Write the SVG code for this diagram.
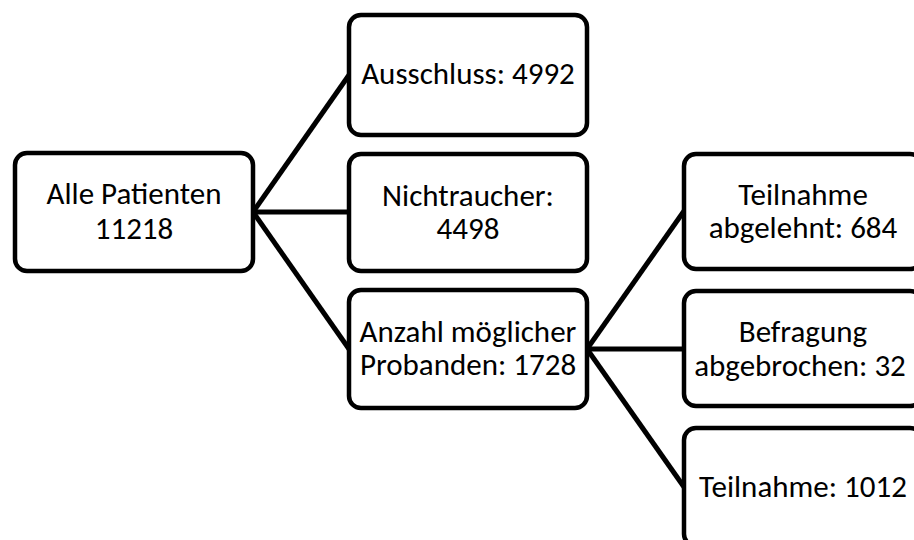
<svg xmlns="http://www.w3.org/2000/svg" width="914" height="540" viewBox="0 0 914 540">
<style>
.box{fill:#fff;stroke:#000;stroke-width:4.5}
.lbl{font-family:"Carlito","Liberation Sans",Arial,sans-serif;font-size:31px;fill:#000;text-anchor:middle}
.con{stroke:#000;stroke-width:5;fill:none}
</style>
<rect width="914" height="540" fill="#fff"/>
<g id="connectors">
<line class="con" x1="253" y1="212" x2="349" y2="75"/>
<line class="con" x1="253" y1="212" x2="349" y2="212"/>
<line class="con" x1="253" y1="212" x2="349" y2="349"/>
<line class="con" x1="587" y1="349" x2="684" y2="211"/>
<line class="con" x1="587" y1="349" x2="684" y2="349"/>
<line class="con" x1="587" y1="349" x2="684" y2="487"/>
</g>
<g id="alle">
<rect class="box" x="15" y="153" width="238" height="118" rx="12"/>
<text class="lbl" x="134" y="204">Alle Patienten</text>
<text class="lbl" x="134" y="239">11218</text>
</g>
<g id="ausschluss">
<rect class="box" x="349" y="15" width="238" height="120" rx="12"/>
<text class="lbl" x="468" y="84">Ausschluss: 4992</text>
</g>
<g id="nichtraucher">
<rect class="box" x="349" y="154" width="238" height="117" rx="12"/>
<text class="lbl" x="468" y="206">Nichtraucher:</text>
<text class="lbl" x="468" y="239">4498</text>
</g>
<g id="anzahl">
<rect class="box" x="349" y="290" width="238" height="118" rx="12"/>
<text class="lbl" x="468" y="342">Anzahl möglicher</text>
<text class="lbl" x="468" y="375">Probanden: 1728</text>
</g>
<g id="abgelehnt">
<rect class="box" x="684" y="154" width="238" height="115" rx="12"/>
<text class="lbl" x="803" y="205">Teilnahme</text>
<text class="lbl" x="803" y="238">abgelehnt: 684</text>
</g>
<g id="abgebrochen">
<rect class="box" x="684" y="291" width="238" height="115" rx="12"/>
<text class="lbl" x="803" y="342">Befragung</text>
<text class="lbl" x="800" y="376">abgebrochen: 32</text>
</g>
<g id="teilnahme">
<rect class="box" x="684" y="428" width="238" height="118" rx="12"/>
<text class="lbl" x="803" y="497">Teilnahme: 1012</text>
</g>
</svg>
